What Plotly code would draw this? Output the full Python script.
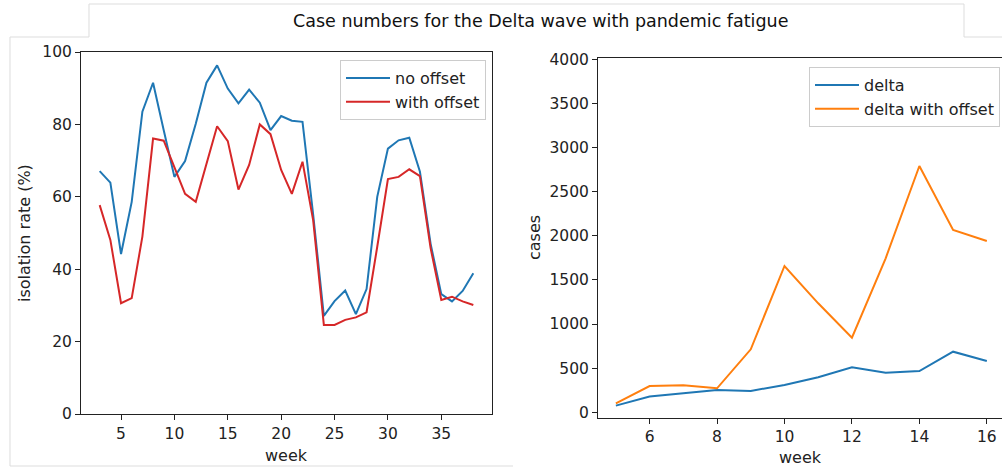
import plotly.graph_objects as go

W, H = 1002, 467

# ---------------- data ----------------
weeks_left = list(range(3, 39))
no_offset = [67.1, 63.9, 44.2, 58.6, 83.5, 91.5, 78.4, 65.5, 69.9, 80.2,
             91.5, 96.3, 89.9, 85.8, 89.6, 86.0, 78.4, 82.3, 81.0, 80.7,
             55.0, 27.1, 31.2, 34.1, 27.6, 34.5, 60.0, 73.3, 75.6, 76.3,
             66.9, 47.0, 33.1, 31.1, 34.0, 38.9]
with_offset = [57.7, 48.1, 30.6, 32.0, 49.0, 76.1, 75.5, 68.2, 60.8, 58.6,
               69.2, 79.5, 75.4, 62.0, 68.8, 80.0, 77.3, 67.4, 60.8, 69.7,
               53.5, 24.6, 24.6, 26.0, 26.7, 28.1, 46.2, 64.9, 65.5, 67.6,
               65.7, 45.8, 31.5, 32.4, 31.1, 30.1]

weeks_right = list(range(5, 17))
delta = [76, 178, 215, 253, 242, 310, 397, 510, 449, 468, 687, 582]
delta_offset = [102, 298, 306, 272, 714, 1658, 1235, 846, 1745, 2791, 2066, 1941]

left_xticks = [5, 10, 15, 20, 25, 30, 35]
left_yticks = [0, 20, 40, 60, 80, 100]
right_xticks = [6, 8, 10, 12, 14, 16]
right_yticks = list(range(0, 4001, 500))

title_text = "Case numbers for the Delta wave with pandemic fatigue"

BLUE = "#1f77b4"
RED = "#d62728"
ORANGE = "#ff7f0e"
FONT = "DejaVu Sans"
FS = 16
TFS = 15.5


def px(x):
    return x / W


def py(y):
    return 1 - y / H


fig = go.Figure()
fig.add_trace(go.Scatter(x=weeks_left, y=no_offset, mode="lines", name="no offset",
                         line=dict(color=BLUE, width=2), xaxis="x", yaxis="y", legend="legend"))
fig.add_trace(go.Scatter(x=weeks_left, y=with_offset, mode="lines", name="with offset",
                         line=dict(color=RED, width=2), xaxis="x", yaxis="y", legend="legend"))
fig.add_trace(go.Scatter(x=weeks_right, y=delta, mode="lines", name="delta",
                         line=dict(color=BLUE, width=2), xaxis="x2", yaxis="y2", legend="legend2"))
fig.add_trace(go.Scatter(x=weeks_right, y=delta_offset, mode="lines", name="delta with offset",
                         line=dict(color=ORANGE, width=2), xaxis="x2", yaxis="y2", legend="legend2"))

axis_common = dict(showgrid=False, zeroline=False, showline=True, linecolor="#222",
                   linewidth=1, ticks="outside", ticklen=5, tickcolor="#222",
                   automargin=False,
                   tickfont=dict(family=FONT, size=TFS, color="#222"))

legend_common = dict(xanchor="left", yanchor="top", itemwidth=44,
                     bgcolor="rgba(255,255,255,0.8)", bordercolor="#cccccc", borderwidth=1,
                     font=dict(family=FONT, size=FS, color="#222"), tracegroupgap=0)

fig.update_layout(
    template="none",
    width=W, height=H,
    margin=dict(l=0, r=0, t=0, b=0, pad=0, autoexpand=False),
    paper_bgcolor="white", plot_bgcolor="white",
    showlegend=True,
    xaxis=dict(domain=[px(81), px(492)], range=[1.25, 39.75], tickvals=left_xticks,
               anchor="y", mirror=True, **axis_common),
    yaxis=dict(domain=[py(414), py(52)], range=[0, 100], tickvals=left_yticks,
               anchor="x", mirror=True, **axis_common),
    xaxis2=dict(domain=[px(598), 1.0], range=[4.47, 16.45], tickvals=right_xticks,
                anchor="y2", mirror=True, **axis_common),
    yaxis2=dict(domain=[py(417.7), py(58.3)], range=[-61, 4011], tickvals=right_yticks,
                anchor="x2", mirror=False, **axis_common),
    legend=dict(x=px(340), y=py(60), **legend_common),
    legend2=dict(x=px(809), y=py(67), **legend_common),
)

# axis labels and title as annotations
ann = dict(xref="paper", yref="paper", showarrow=False, xanchor="center", yanchor="middle",
           font=dict(family=FONT, size=FS, color="#222"))
fig.add_annotation(x=px(286), y=py(455), text="week", **ann)
fig.add_annotation(x=px(24), y=py(233), text="isolation rate (%)", textangle=-90, **ann)
fig.add_annotation(x=px(800), y=py(457), text="week", **ann)
fig.add_annotation(x=px(535), y=py(238), text="cases", textangle=-90, **ann)
fig.add_annotation(x=px(540), y=py(21), text=title_text, xref="paper", yref="paper",
                   xanchor="center", yanchor="middle",
                   showarrow=False, font=dict(family=FONT, size=17.5, color="#111"))

# light gray frame lines (screenshot panels)
def path(points):
    return "M " + " L ".join(f"{px(a):.5f},{py(b):.5f}" for a, b in points)

fig.add_shape(type="path", xref="paper", yref="paper",
              path=path([(10, 466), (10, 37), (89, 37), (89, 4), (964, 4), (964, 37), (1002, 37)]),
              line=dict(color="#dddddd", width=1))
fig.add_shape(type="path", xref="paper", yref="paper",
              path=path([(10, 466), (513, 466)]),
              line=dict(color="#dddddd", width=1))

fig.write_html("out.html", config={"displayModeBar": False},
               post_script="document.body.style.margin='0px';")
